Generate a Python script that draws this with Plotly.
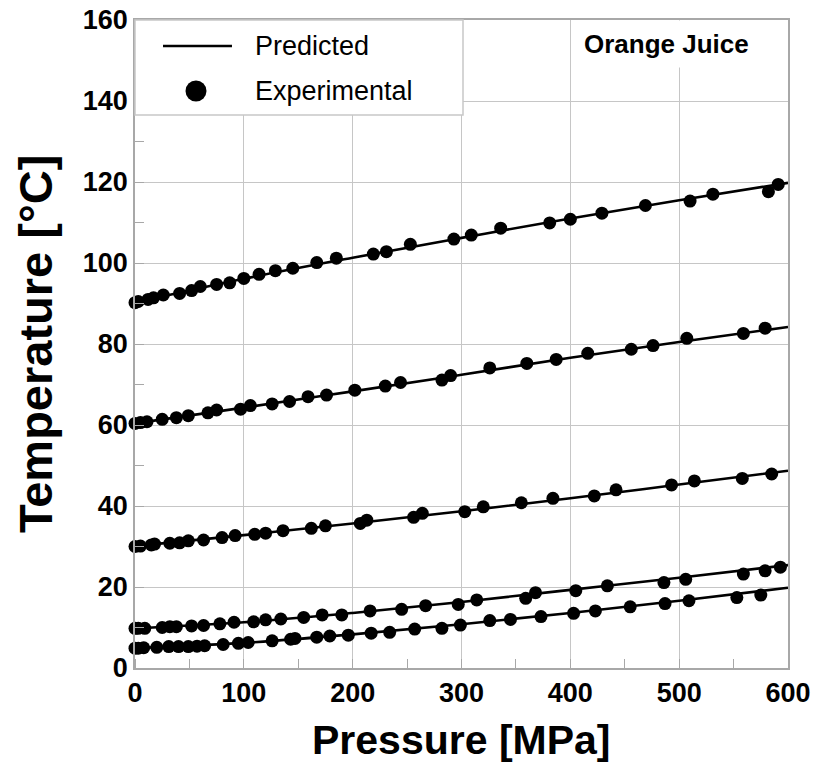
import plotly.graph_objects as go

# ---- data ----
P1 = [0, 3, 12, 17, 26, 41, 52, 60, 75, 87, 100, 114, 129, 145, 167, 185, 219, 231, 253, 293, 309, 336, 381, 400, 429, 469, 510, 531, 582, 591]
T1 = [90.2, 90.5, 91.0, 91.4, 92.1, 92.5, 93.2, 94.2, 94.7, 95.1, 96.2, 97.2, 98.1, 98.7, 100.1, 101.2, 102.2, 102.8, 104.6, 105.9, 106.9, 108.6, 109.9, 110.8, 112.3, 114.2, 115.3, 117.0, 117.6, 119.4]

P2 = [0, 5, 11, 25, 38, 49, 67, 75, 97, 106, 126, 142, 159, 176, 202, 230, 244, 282, 290, 326, 360, 387, 416, 456, 476, 507, 559, 579]
T2 = [60.4, 60.6, 60.8, 61.4, 61.8, 62.3, 63.0, 63.7, 63.9, 64.8, 65.2, 65.8, 67.0, 67.4, 68.6, 69.6, 70.5, 71.1, 72.2, 74.1, 75.2, 76.2, 77.7, 78.7, 79.6, 81.4, 82.6, 83.9]

P3 = [0, 5, 15, 18, 32, 41, 49, 63, 80, 92, 110, 120, 136, 162, 175, 207, 213, 256, 264, 303, 320, 355, 384, 422, 442, 493, 514, 558, 585]
T3 = [30.0, 30.1, 30.4, 30.6, 30.8, 30.9, 31.4, 31.6, 32.2, 32.7, 33.0, 33.3, 33.9, 34.5, 35.1, 35.7, 36.5, 37.2, 38.2, 38.6, 39.8, 40.8, 41.9, 42.5, 44.0, 45.2, 46.2, 46.8, 47.9]

P4 = [0, 3, 9, 25, 32, 38, 52, 63, 78, 91, 109, 120, 134, 155, 172, 190, 216, 245, 267, 297, 314, 359, 368, 405, 434, 486, 506, 559, 579, 593]
T4 = [9.8, 9.8, 9.8, 10.0, 10.2, 10.2, 10.4, 10.5, 10.9, 11.3, 11.4, 11.9, 12.1, 12.5, 13.1, 13.1, 14.1, 14.5, 15.4, 15.7, 16.8, 17.2, 18.6, 19.1, 20.3, 21.1, 21.9, 23.2, 24.0, 24.9]

P5 = [0, 3, 8, 20, 31, 40, 49, 57, 64, 81, 95, 104, 126, 143, 147, 167, 179, 196, 217, 234, 257, 282, 299, 326, 345, 373, 403, 423, 455, 487, 509, 553, 575]
T5 = [4.9, 4.9, 5.0, 5.1, 5.3, 5.3, 5.3, 5.4, 5.5, 5.8, 6.1, 6.3, 6.7, 7.1, 7.3, 7.6, 7.9, 8.1, 8.6, 8.8, 9.6, 9.8, 10.6, 11.7, 12.0, 12.7, 13.5, 14.1, 15.1, 15.9, 16.6, 17.4, 18.0]

P_pred = [0, 100, 200, 300, 400, 500, 600]
T1_pred = [90.2, 96.1, 101.3, 106.2, 111.0, 115.5, 119.8]
T2_pred = [60.4, 64.3, 68.3, 72.4, 76.6, 80.5, 84.2]
T3_pred = [30.1, 32.8, 35.7, 38.7, 41.9, 45.3, 48.7]
T4_pred = [9.8, 11.3, 13.6, 16.3, 19.3, 22.3, 25.4]
T5_pred = [4.9, 6.2, 8.3, 10.8, 13.6, 16.6, 19.8]

x_ticks = [0, 100, 200, 300, 400, 500, 600]
y_ticks = [0, 20, 40, 60, 80, 100, 120, 140, 160]

FONT = "Liberation Sans, Arial, Helvetica, sans-serif"
GRID = "#c6c6c6"
AXIS = "#a8a8a8"

fig = go.Figure()

for pp, tp in [(P_pred, T1_pred), (P_pred, T2_pred), (P_pred, T3_pred), (P_pred, T4_pred), (P_pred, T5_pred)]:
    fig.add_trace(go.Scatter(x=pp, y=tp, mode="lines", line=dict(color="black", width=2.6, shape="spline"),
                             showlegend=False, cliponaxis=False, hoverinfo="skip"))

for px, ty in [(P1, T1), (P2, T2), (P3, T3), (P4, T4), (P5, T5)]:
    fig.add_trace(go.Scatter(x=px, y=ty, mode="markers", marker=dict(color="black", size=13),
                             showlegend=False, cliponaxis=False))

fig.update_layout(
    width=815, height=762,
    margin=dict(l=135, r=27, t=20, b=94, autoexpand=False),
    paper_bgcolor="white", plot_bgcolor="white",
    font=dict(family=FONT, color="black"),
    showlegend=False,
)

fig.update_xaxes(
    range=[0, 600], tickvals=x_ticks, ticktext=[str(v) for v in x_ticks],
    automargin=False,
    showgrid=True, gridcolor=GRID, gridwidth=1.3,
    showline=True, linecolor=AXIS, linewidth=1.5, mirror=True,
    ticks="", zeroline=False,
    tickfont=dict(family=FONT, size=27, color="black", weight="bold"),
    minor=dict(dtick=50, tick0=0, ticks="inside", ticklen=9, tickcolor=AXIS, tickwidth=1.2, showgrid=False),
)
fig.update_yaxes(
    range=[0, 160], tickvals=y_ticks, ticktext=[str(v) for v in y_ticks],
    automargin=False,
    showgrid=True, gridcolor=GRID, gridwidth=1.3,
    showline=True, linecolor=AXIS, linewidth=1.5, mirror=True,
    ticks="", zeroline=False, ticklabelstandoff=0,
    tickfont=dict(family=FONT, size=27, color="black", weight="bold"),
    minor=dict(dtick=10, tick0=0, ticks="inside", ticklen=9, tickcolor=AXIS, tickwidth=1.2, showgrid=False),
)

# axis titles
fig.add_annotation(text="<b>Pressure [MPa]</b>", xref="paper", yref="paper", x=0.5, y=0,
                   xanchor="center", yanchor="middle", yshift=-72, showarrow=False,
                   font=dict(family=FONT, size=41, color="black"))
fig.add_annotation(text="<b>Temperature [°C]</b>", xref="paper", yref="paper", x=0, y=0.5,
                   xanchor="center", yanchor="middle", xshift=-100, textangle=-90, showarrow=False,
                   font=dict(family=FONT, size=47, color="black"))

# legend box (manual)
fig.add_shape(type="rect", xref="paper", yref="paper", x0=0, x1=0.5023, y0=0.8534, y1=1.0,
              fillcolor="white", line=dict(color="#c8c8c8", width=1.5), layer="above")
fig.add_shape(type="line", xref="paper", yref="paper", x0=0.0429, x1=0.1485, y0=0.9599, y1=0.9599,
              line=dict(color="black", width=2.6), layer="above")
fig.add_shape(type="circle", xref="paper", yref="paper", xsizemode="pixel", ysizemode="pixel",
              xanchor=0.0934, yanchor=0.8904, x0=-10.5, x1=10.5, y0=-10.5, y1=10.5,
              fillcolor="black", line=dict(color="black", width=0), layer="above")
fig.add_annotation(text="Predicted", xref="paper", yref="paper", x=0.1807, y=0.9599,
                   xanchor="left", yanchor="middle", showarrow=False,
                   font=dict(family=FONT, size=27, color="black"))
fig.add_annotation(text="Experimental", xref="paper", yref="paper", x=0.1807, y=0.8904,
                   xanchor="left", yanchor="middle", showarrow=False,
                   font=dict(family=FONT, size=27, color="black"))

# panel label
fig.add_annotation(text="<b>Orange Juice</b>", xref="paper", yref="paper", x=0.8147, y=0.9630,
                   xanchor="center", yanchor="middle", showarrow=False, bgcolor="white", borderpad=8,
                   font=dict(family=FONT, size=26, color="black"))

fig.write_html("out.html")
